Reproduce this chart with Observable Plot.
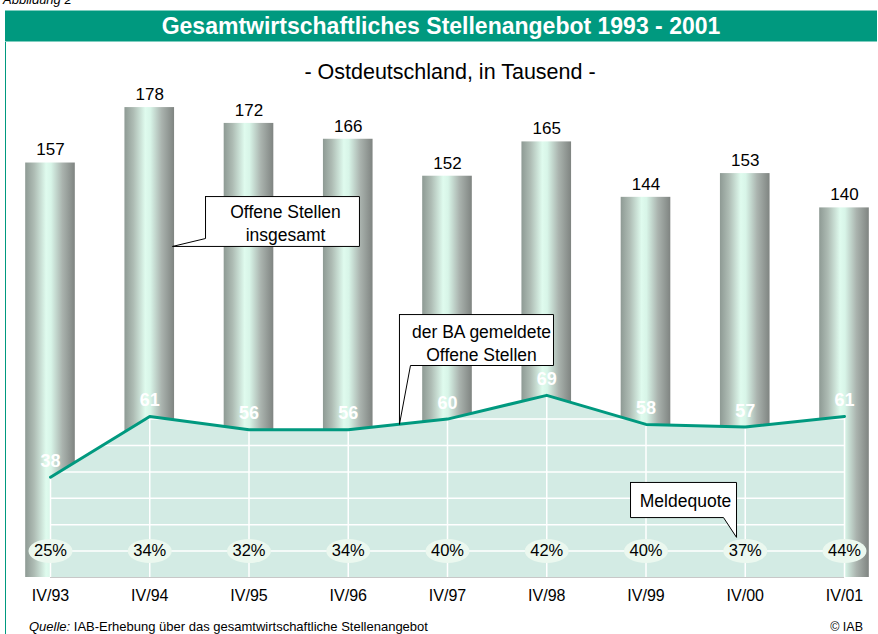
<!DOCTYPE html>
<html>
<head>
<meta charset="utf-8">
<script src="https://cdn.jsdelivr.net/npm/d3@7"></script>
<script src="https://cdn.jsdelivr.net/npm/@observablehq/plot@0.6"></script>
<style>
  html, body { margin: 0; padding: 0; background: #fff; }
  body { width: 878px; height: 634px; position: relative; overflow: hidden; font-family: "Liberation Sans", Arial, sans-serif; }
  .abs { position: absolute; }
  #fig { left: 3px; top: -8px; font-size: 13px; font-style: italic; color: #000; }
  #titlebar { left: 5px; top: 10px; width: 872px; height: 32px; background: #00997f; color: #fff;
    font-weight: bold; font-size: 23px; line-height: 31px; text-align: center; z-index: 2;
    border-top: 1px solid #7fcdbf; border-bottom: 1px solid #7fcdbf; box-sizing: border-box; }
  #box { left: 5px; top: 42px; width: 878px; height: 600px; border-left: 1.5px solid #00997f; z-index: 2; pointer-events: none; }
  #subtitle { left: 0; width: 900px; top: 60px; text-align: center; font-size: 21.5px; z-index: 2; }
  #chart { left: 0; top: 0; z-index: 1; }
  #source { left: 29px; top: 619px; font-size: 13px; z-index: 2; }
  #copy { right: 15px; top: 620px; font-size: 12.5px; z-index: 2; }
</style>
</head>
<body>
<div id="fig" class="abs">Abbildung 2</div>
<div id="titlebar" class="abs">Gesamtwirtschaftliches Stellenangebot 1993 - 2001</div>
<div id="box" class="abs"></div>
<div id="subtitle" class="abs">- Ostdeutschland, in Tausend -</div>
<div id="chart" class="abs"></div>
<div id="source" class="abs"><i>Quelle:</i> IAB-Erhebung über das gesamtwirtschaftliche Stellenangebot</div>
<div id="copy" class="abs">© IAB</div>
<script>
// ---- Data ----
const categories = ["IV/93", "IV/94", "IV/95", "IV/96", "IV/97", "IV/98", "IV/99", "IV/00", "IV/01"];
const totalOpenings = [157, 178, 172, 166, 152, 165, 144, 153, 140];   // Offene Stellen insgesamt
const baOpenings = [38, 61, 56, 56, 60, 69, 58, 57, 61];               // der BA gemeldete Offene Stellen
const reportRate = [25, 34, 32, 34, 40, 42, 40, 37, 44];               // Meldequote in %
const gridLevels = [10, 20, 30, 40, 50, 60];

// ---- Annotation callouts (in data units: x = category index, y = thousands) ----
const callout1 = [[1.562,144.3],[3.113,144.3],[3.113,125.4],[1.229,125.4],[1.562,128.4],[1.562,144.3]];
const callout2 = [[3.516,99.6],[5.068,99.6],[5.068,80.3],[3.627,80.3],[3.516,58.0],[3.516,99.6]];
const callout3 = [[5.844,36.0],[6.912,36.0],[6.912,15.2],[6.781,22.7],[5.844,22.7],[5.844,36.0]];
const calloutTexts = [
  {x: 2.368, y: 134.5, text: "Offene Stellen\ninsgesamt"},
  {x: 4.343, y: 89.0, text: "der BA gemeldete\nOffene Stellen"},
  {x: 6.398, y: 29.5, text: "Meldequote"}
];

const rows = categories.map((c, i) => ({i, cat: c, total: totalOpenings[i], ba: baOpenings[i], rate: reportRate[i]}));
const callouts = [callout1, callout2, callout3].flatMap((pts, k) => pts.map(([x, y]) => ({id: k, x, y})));

const ellipse = {
  draw(ctx) {
    const rx = 22, ry = 12, k = 0.5523;
    ctx.moveTo(rx, 0);
    ctx.bezierCurveTo(rx, ry * k, rx * k, ry, 0, ry);
    ctx.bezierCurveTo(-rx * k, ry, -rx, ry * k, -rx, 0);
    ctx.bezierCurveTo(-rx, -ry * k, -rx * k, -ry, 0, -ry);
    ctx.bezierCurveTo(rx * k, -ry, rx, -ry * k, rx, 0);
    ctx.closePath();
  }
};

const teal = "#00997f";

const chart = Plot.plot({
  width: 878,
  height: 634,
  marginLeft: 50,
  marginRight: 34,
  marginTop: 49,
  marginBottom: 57,
  style: {background: "transparent", fontFamily: "'Liberation Sans', Arial, sans-serif", fontSize: "16px", color: "#000"},
  x: {type: "linear", domain: [0, 8], ticks: d3.range(categories.length), tickFormat: i => categories[i], tickSize: 0, tickPadding: 12, label: null},
  y: {domain: [0, 200], axis: null},
  marks: [
    Plot.rect(rows, {x1: d => d.i - 0.25, x2: d => d.i + 0.25, y1: 0, y2: "total", fill: "url(#barGrad)"}),
    Plot.areaY(rows, {x: "i", y: "ba", fill: "#d3ebe4"}),
    Plot.ruleY(gridLevels, {x1: 0, x2: 8, stroke: "white", strokeWidth: 1.5, ariaDescription: "hgrid"}),
    Plot.ruleX(rows, {x: "i", y1: 0, y2: "ba", stroke: "white", strokeWidth: 1.5}),
    Plot.ruleY([0], {x1: 0, x2: 8, stroke: "#c8c8c8"}),
    Plot.lineY(rows, {x: "i", y: "ba", stroke: teal, strokeWidth: 3}),
    Plot.text(rows, {x: "i", y: "ba", text: d => String(d.ba), dy: -16, fill: "white", fontWeight: "bold", fontSize: 18}),
    Plot.text(rows, {x: "i", y: "total", text: d => String(d.total), dy: -13, fill: "#000", fontSize: 17}),
    Plot.dot(rows, {x: "i", y: 10, symbol: ellipse, fill: "#ebf8ef", stroke: "none"}),
    Plot.text(rows, {x: "i", y: 10, text: d => d.rate + "%", fill: "#000", fontSize: 16.5}),
    Plot.line(callouts, {x: "x", y: "y", z: "id", fill: "white", stroke: "#000", strokeWidth: 1, curve: "linear"}),
    Plot.text(calloutTexts, {x: "x", y: "y", text: "text", fill: "#000", fontSize: 17.5, lineHeight: 1.3})
  ]
});

// gradient for cylindrical bars
const svg = d3.select(chart);
const defs = svg.insert("defs", ":first-child");
const grad = defs.append("linearGradient").attr("id", "barGrad").attr("x1", "0").attr("x2", "1").attr("y1", "0").attr("y2", "0");
[[0, "#8e9a94"], [0.18, "#aebcb4"], [0.42, "#dffbee"], [0.52, "#d8f5e8"], [0.75, "#aab3ae"], [1, "#7f8481"]]
  .forEach(([o, c]) => grad.append("stop").attr("offset", o).attr("stop-color", c));

// clip horizontal grid lines to the area
const areaPath = svg.select('g[aria-label="area"] path').attr("d");
defs.append("clipPath").attr("id", "areaClip").append("path").attr("d", areaPath);
svg.select('g[aria-description="hgrid"]').attr("clip-path", "url(#areaClip)");

document.getElementById("chart").appendChild(chart);
</script>
</body>
</html>
